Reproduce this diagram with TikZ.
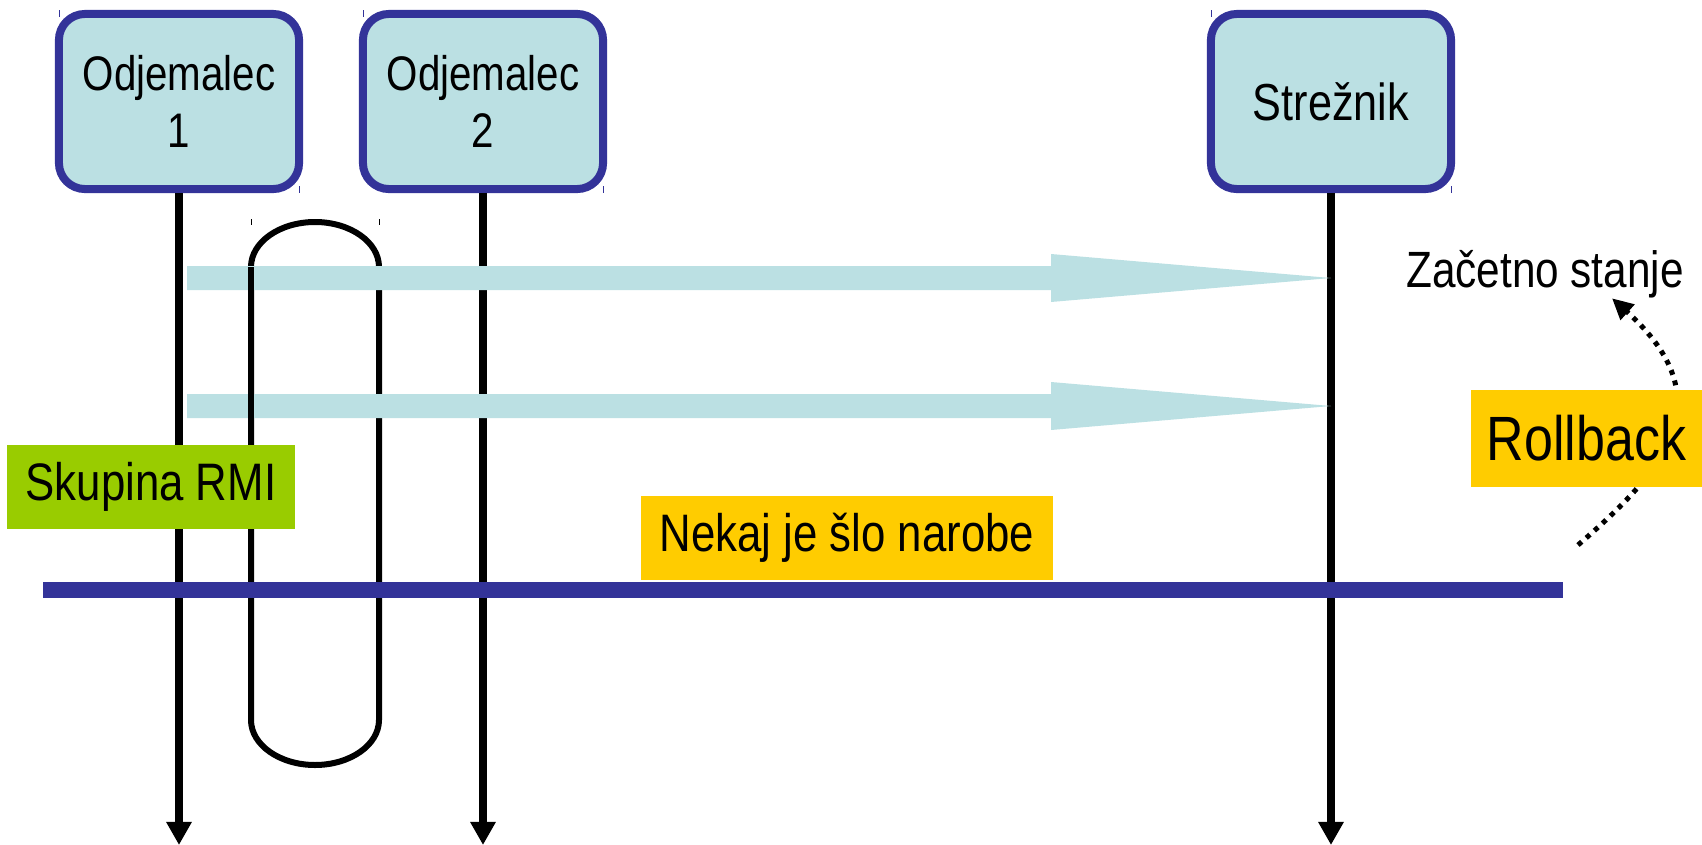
\documentclass[tikz,border=0pt]{standalone}
\usepackage{fontspec}
\setmainfont[FakeStretch=0.83]{Liberation Sans}
\usetikzlibrary{arrows.meta}
\definecolor{boxblue}{HTML}{BBE0E3}
\definecolor{edgeblue}{HTML}{333399}
\definecolor{groupgreen}{HTML}{99CC00}
\definecolor{notegold}{HTML}{FFCC00}
\begin{document}
\begin{tikzpicture}[x=0.01cm,y=-0.01cm,
  actor/.style={draw=edgeblue,line width=0.08cm,fill=boxblue,rounded corners=0.26cm,minimum width=2.4cm,minimum height=1.75cm,align=center,inner sep=0pt,font=\fontsize{13.8}{16.2}\selectfont},
  lifeline/.style={line width=0.08cm,-{Triangle[length=0.23cm,width=0.24cm]}},
  loopline/.style={line width=0.06cm},
  note/.style={fill=notegold,inner sep=0pt,font=\fontsize{15}{18}\selectfont},
  handle/.style={edgeblue,line width=0.01cm}]
\useasboundingbox (0,0) rectangle (1702,845);
\node[actor] (c1) at (179,101.5) {Odjemalec\\1};
\node[actor] (c2) at (483,101.5) {Odjemalec\\2};
\node[actor,font=\fontsize{14.8}{17}\selectfont] (srv) at (1331,101.5) {Strežnik};
\foreach \x/\y in {59/10,299/186,363/10,603/186,1211/10,1451/186}
  \draw[handle] (\x,\y) -- (\x,\y+7);
\coordinate (bottom) at (0,845);
\draw[lifeline] (c1.south) -- (c1.south |- bottom);
\draw[lifeline] (c2.south) -- (c2.south |- bottom);
\draw[lifeline] (srv.south) -- (srv.south |- bottom);
% RMI group loop
\draw[loopline] (251,720) -- (251,267) arc[start angle=180,end angle=360,x radius=64,y radius=45] -- (379,720) arc[start angle=0,end angle=180,x radius=64,y radius=45];
\draw[black,line width=0.01cm] (251,219) -- (251,225) (379,219) -- (379,225);
\foreach \y in {278,406}
  \fill[boxblue] (187,\y-12) -- (1051,\y-12) -- (1051,\y-24) -- (srv.south |- 0,\y) -- (1051,\y+24) -- (1051,\y+12) -- (187,\y+12) -- cycle;
\draw[loopline] (251,720) -- (251,267);
\node[fill=groupgreen,inner sep=0pt,minimum width=2.88cm,minimum height=0.84cm,font=\fontsize{15}{18}\selectfont] (grp) at (151,487) {Skupina RMI};
\draw[edgeblue,line width=0.16cm] (43,590) -- (1563,590);
\node[note,minimum width=4.12cm,minimum height=0.84cm] (err) at (847,538) {Nekaj je šlo narobe};
% rollback
\node[anchor=base,inner sep=0pt,font=\fontsize{14.5}{17}\selectfont] (init) at (1545,287) {Začetno stanje};
\coordinate (rbtail) at (1578,545);
\draw[line width=0.05cm,dash pattern=on 1.4pt off 1.7pt,-{Triangle[length=0.21cm,width=0.2cm]}] (rbtail) .. controls (1665,470) and (1725,400) .. (init.south -| 1612,0);
\node[note,minimum width=2.31cm,minimum height=0.97cm,font=\fontsize{17.8}{20}\selectfont] (rb) at (1586.5,438.5) {Rollback};
\end{tikzpicture}
\end{document}
